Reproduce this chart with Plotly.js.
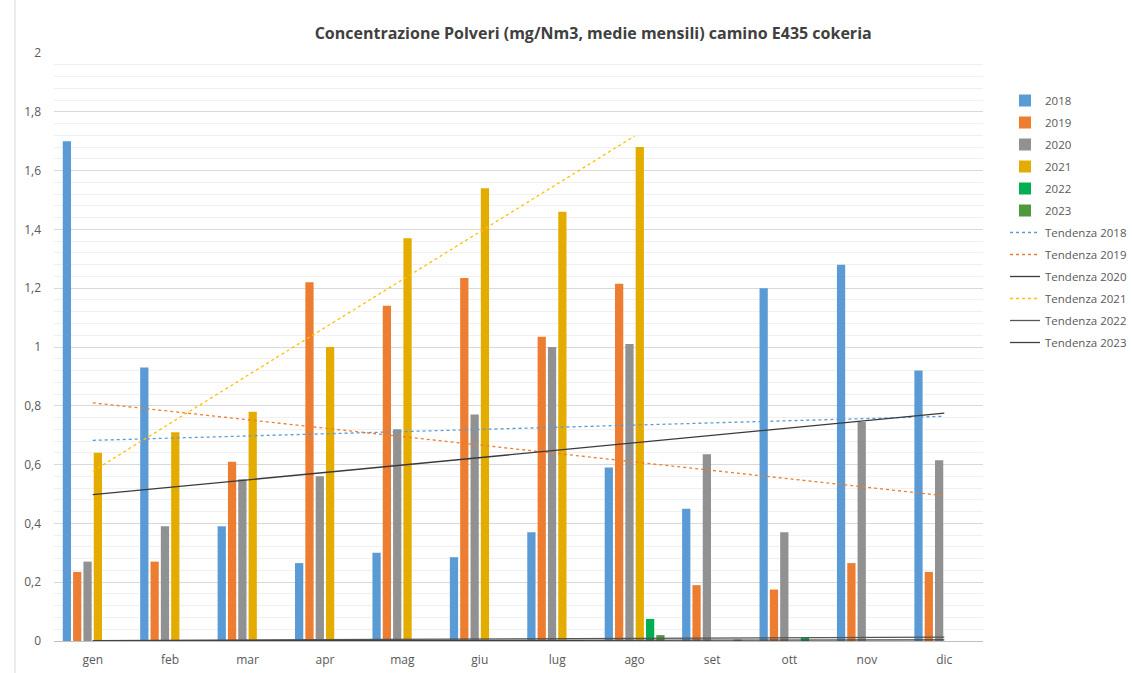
<!DOCTYPE html>
<html>
<head>
<meta charset="utf-8">
<script src="https://cdn.plot.ly/plotly-3.0.1.min.js"></script>
<style>html,body{margin:0;padding:0;background:#fff;}#chart{width:1132px;height:673px;}</style>
</head>
<body>
<div id="chart"></div>
<script>
const months = ["gen","feb","mar","apr","mag","giu","lug","ago","set","ott","nov","dic"];
const y2018 = [1.70, 0.93, 0.39, 0.265, 0.30, 0.285, 0.37, 0.59, 0.45, 1.20, 1.28, 0.92];
const y2019 = [0.235, 0.27, 0.61, 1.22, 1.14, 1.235, 1.035, 1.215, 0.19, 0.175, 0.265, 0.235];
const y2020 = [0.27, 0.39, 0.55, 0.56, 0.72, 0.77, 1.00, 1.01, 0.635, 0.37, 0.745, 0.615];
const y2021 = [0.64, 0.71, 0.78, 1.00, 1.37, 1.54, 1.46, 1.68, null, null, null, null];
const y2022 = [0, 0, 0, 0, 0, 0, 0, 0.075, 0, 0.012, 0, 0];
const y2023 = [0, 0, 0, 0, 0, 0, 0, 0.02, 0.005, 0, 0, 0];
const years = ["2018","2019","2020","2021","2022","2023"];
const series = [y2018, y2019, y2020, y2021, y2022, y2023];
const barColors = ["#5b9bd5","#ed7d31","#919191","#e5ac00","#00b050","#4f9a38"];
const trendColors = ["#5b9bd5","#ed7d31","#3a3a3a","#ffc000","#555555","#404040"];
const trendDash = ["dot","dot","solid","dot","solid","solid"];

function trend(vals){
  const pts = [];
  vals.forEach((v,i)=>{ if(v!==null && v!==undefined) pts.push([i+1,v]); });
  const n = pts.length;
  const mx = pts.reduce((s,p)=>s+p[0],0)/n;
  const my = pts.reduce((s,p)=>s+p[1],0)/n;
  let sxy=0, sxx=0;
  pts.forEach(p=>{ sxy+=(p[0]-mx)*(p[1]-my); sxx+=(p[0]-mx)*(p[0]-mx); });
  const b = sxy/sxx, a = my - b*mx;
  const xs=[], ys=[];
  pts.forEach(p=>{ xs.push(months[p[0]-1]); ys.push(a+b*p[0]); });
  return {xs, ys};
}

const traces = [];
series.forEach((s,i)=>{
  traces.push({type:"bar", name:years[i], x:months, y:s, legendgroup:"b"+i,
    marker:{color:barColors[i], line:{width:0}}, hoverinfo:"x+y+name"});
});
series.forEach((s,i)=>{
  const t = trend(s);
  traces.push({type:"scatter", mode:"lines", name:"Tendenza "+years[i], x:t.xs, y:t.ys, legendgroup:"t"+i,
    line:{color:trendColors[i], dash:trendDash[i], width:1.3}});
});

const layout = {
  width:1132, height:673,
  paper_bgcolor:"#fff", plot_bgcolor:"#fff",
  separators:",.",
  font:{family:"Open Sans, Liberation Sans, sans-serif", size:12, color:"#595959"},
  margin:{l:54, r:149, t:53, b:32},
  title:{text:"Concentrazione Polveri (mg/Nm3, medie mensili) camino E435 cokeria",
    font:{size:16, color:"#404040", family:"Open Sans, Liberation Sans, sans-serif", weight:"bold"},
    x:0.524, xref:"container", xanchor:"center", y:0.951, yref:"container", yanchor:"middle"},
  barmode:"group", bargap:0.2, bargroupgap:0.2,
  xaxis:{type:"category", categoryarray:months, range:[-0.5,11.5], showgrid:false,
    showline:true, linecolor:"#bfbfbf", linewidth:1, ticks:"", ticklabelstandoff:8,
    tickfont:{size:12,color:"#595959"}},
  yaxis:{range:[0,2], dtick:0.2, tick0:0, showgrid:true, gridcolor:"#d9d9d9", gridwidth:1,
    zeroline:true, zerolinecolor:"#bfbfbf", showline:false, ticks:"", ticklen:0, ticklabelstandoff:12,
    tickfont:{size:12,color:"#595959"},
    minor:{dtick:0.04, showgrid:true, gridcolor:"#f0f0f0", gridwidth:1}},
  legend:{x:1005/1132, xref:"container", y:(673-86)/673, yref:"container", xanchor:"left", yanchor:"top",
    font:{size:11.5,color:"#595959"}, tracegroupgap:3, itemwidth:30},
  shapes:[{type:"line", xref:"paper", yref:"paper", x0:-0.042, x1:-0.042, y0:-0.06, y1:1.1,
    line:{color:"#d9d9d9", width:1}}]
};
Plotly.newPlot("chart", traces, layout, {displayModeBar:false, staticPlot:true});
</script>
</body>
</html>
